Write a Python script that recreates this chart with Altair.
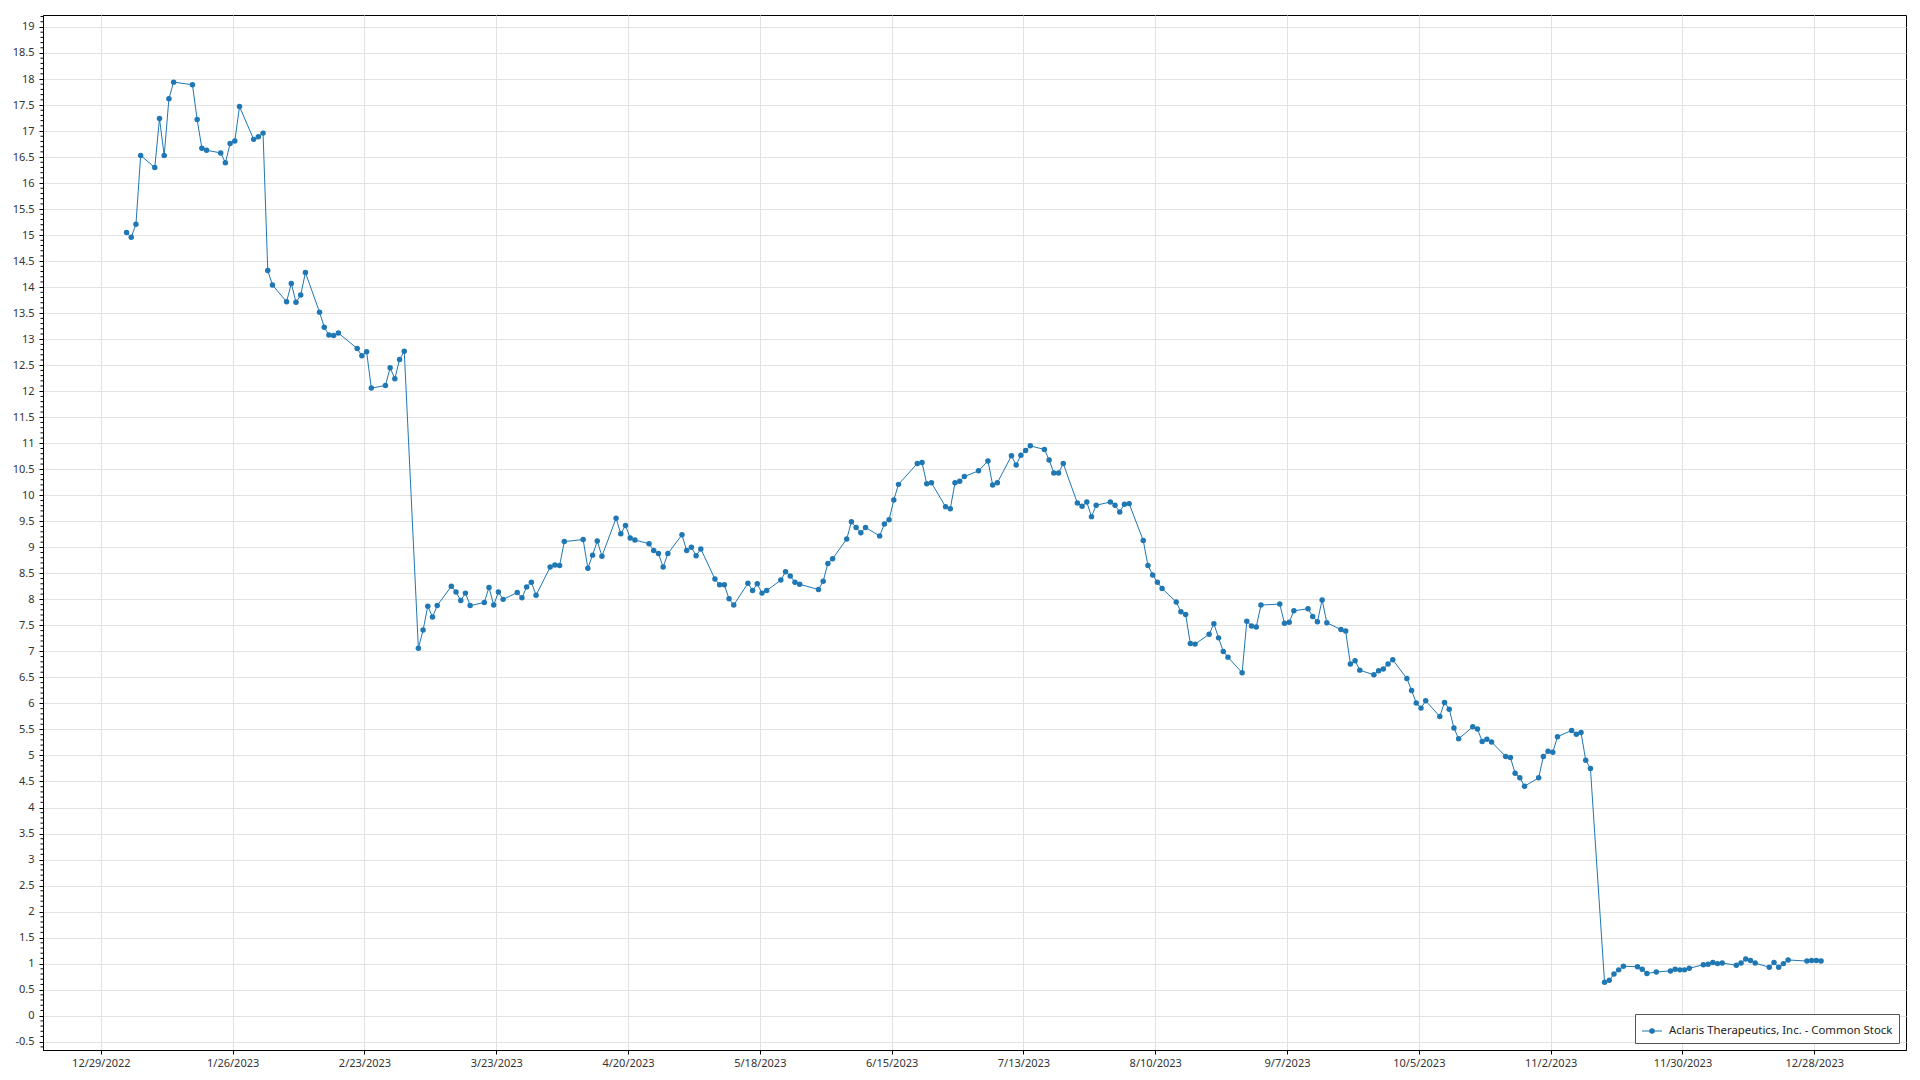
import altair as alt
import pandas as pd

SERIES = "Aclaris Therapeutics, Inc. - Common Stock"

dates = [
    "2023-01-03", "2023-01-04", "2023-01-05", "2023-01-06", "2023-01-09", "2023-01-10", "2023-01-11",
    "2023-01-12", "2023-01-13", "2023-01-17", "2023-01-18", "2023-01-19", "2023-01-20", "2023-01-23",
    "2023-01-24", "2023-01-25", "2023-01-26", "2023-01-27", "2023-01-30", "2023-01-31", "2023-02-01",
    "2023-02-02", "2023-02-03", "2023-02-06", "2023-02-07", "2023-02-08", "2023-02-09", "2023-02-10",
    "2023-02-13", "2023-02-14", "2023-02-15", "2023-02-16", "2023-02-17", "2023-02-21", "2023-02-22",
    "2023-02-23", "2023-02-24", "2023-02-27", "2023-02-28", "2023-03-01", "2023-03-02", "2023-03-03",
    "2023-03-06", "2023-03-07", "2023-03-08", "2023-03-09", "2023-03-10", "2023-03-13", "2023-03-14",
    "2023-03-15", "2023-03-16", "2023-03-17", "2023-03-20", "2023-03-21", "2023-03-22", "2023-03-23",
    "2023-03-24", "2023-03-27", "2023-03-28", "2023-03-29", "2023-03-30", "2023-03-31", "2023-04-03",
    "2023-04-04", "2023-04-05", "2023-04-06", "2023-04-10", "2023-04-11", "2023-04-12", "2023-04-13",
    "2023-04-14", "2023-04-17", "2023-04-18", "2023-04-19", "2023-04-20", "2023-04-21", "2023-04-24",
    "2023-04-25", "2023-04-26", "2023-04-27", "2023-04-28", "2023-05-01", "2023-05-02", "2023-05-03",
    "2023-05-04", "2023-05-05", "2023-05-08", "2023-05-09", "2023-05-10", "2023-05-11", "2023-05-12",
    "2023-05-15", "2023-05-16", "2023-05-17", "2023-05-18", "2023-05-19", "2023-05-22", "2023-05-23",
    "2023-05-24", "2023-05-25", "2023-05-26", "2023-05-30", "2023-05-31", "2023-06-01", "2023-06-02",
    "2023-06-05", "2023-06-06", "2023-06-07", "2023-06-08", "2023-06-09", "2023-06-12", "2023-06-13",
    "2023-06-14", "2023-06-15", "2023-06-16", "2023-06-20", "2023-06-21", "2023-06-22", "2023-06-23",
    "2023-06-26", "2023-06-27", "2023-06-28", "2023-06-29", "2023-06-30", "2023-07-03", "2023-07-05",
    "2023-07-06", "2023-07-07", "2023-07-10", "2023-07-11", "2023-07-12", "2023-07-13", "2023-07-14",
    "2023-07-17", "2023-07-18", "2023-07-19", "2023-07-20", "2023-07-21", "2023-07-24", "2023-07-25",
    "2023-07-26", "2023-07-27", "2023-07-28", "2023-07-31", "2023-08-01", "2023-08-02", "2023-08-03",
    "2023-08-04", "2023-08-07", "2023-08-08", "2023-08-09", "2023-08-10", "2023-08-11", "2023-08-14",
    "2023-08-15", "2023-08-16", "2023-08-17", "2023-08-18", "2023-08-21", "2023-08-22", "2023-08-23",
    "2023-08-24", "2023-08-25", "2023-08-28", "2023-08-29", "2023-08-30", "2023-08-31", "2023-09-01",
    "2023-09-05", "2023-09-06", "2023-09-07", "2023-09-08", "2023-09-11", "2023-09-12", "2023-09-13",
    "2023-09-14", "2023-09-15", "2023-09-18", "2023-09-19", "2023-09-20", "2023-09-21", "2023-09-22",
    "2023-09-25", "2023-09-26", "2023-09-27", "2023-09-28", "2023-09-29", "2023-10-02", "2023-10-03",
    "2023-10-04", "2023-10-05", "2023-10-06", "2023-10-09", "2023-10-10", "2023-10-11", "2023-10-12",
    "2023-10-13", "2023-10-16", "2023-10-17", "2023-10-18", "2023-10-19", "2023-10-20", "2023-10-23",
    "2023-10-24", "2023-10-25", "2023-10-26", "2023-10-27", "2023-10-30", "2023-10-31", "2023-11-01",
    "2023-11-02", "2023-11-03", "2023-11-06", "2023-11-07", "2023-11-08", "2023-11-09", "2023-11-10",
    "2023-11-13", "2023-11-14", "2023-11-15", "2023-11-16", "2023-11-17", "2023-11-20", "2023-11-21",
    "2023-11-22", "2023-11-24", "2023-11-27", "2023-11-28", "2023-11-29", "2023-11-30", "2023-12-01",
    "2023-12-04", "2023-12-05", "2023-12-06", "2023-12-07", "2023-12-08", "2023-12-11", "2023-12-12",
    "2023-12-13", "2023-12-14", "2023-12-15", "2023-12-18", "2023-12-19", "2023-12-20", "2023-12-21",
    "2023-12-22", "2023-12-26", "2023-12-27", "2023-12-28", "2023-12-29",
]

prices = [
    15.05, 14.96, 15.21, 16.53, 16.30, 17.24, 16.53,
    17.62, 17.94, 17.89, 17.22, 16.67, 16.63, 16.58,
    16.39, 16.76, 16.81, 17.47, 16.84, 16.89, 16.96,
    14.32, 14.04, 13.72, 14.07, 13.71, 13.85, 14.28,
    13.52, 13.23, 13.08, 13.07, 13.12, 12.82, 12.68,
    12.76, 12.06, 12.11, 12.45, 12.24, 12.61, 12.77,
    7.06, 7.41, 7.87, 7.66, 7.88, 8.25, 8.14,
    7.98, 8.12, 7.88, 7.94, 8.23, 7.89, 8.14,
    8.00, 8.13, 8.03, 8.24, 8.33, 8.08, 8.62,
    8.66, 8.65, 9.11, 9.15, 8.60, 8.85, 9.12,
    8.83, 9.56, 9.26, 9.42, 9.18, 9.14, 9.07,
    8.94, 8.88, 8.62, 8.88, 9.24, 8.94, 9.00,
    8.84, 8.97, 8.39, 8.28, 8.28, 8.01, 7.89,
    8.31, 8.17, 8.30, 8.12, 8.17, 8.37, 8.53,
    8.45, 8.33, 8.29, 8.19, 8.35, 8.69, 8.78,
    9.16, 9.49, 9.38, 9.28, 9.38, 9.22, 9.45,
    9.53, 9.91, 10.21, 10.61, 10.63, 10.22, 10.24,
    9.78, 9.74, 10.24, 10.27, 10.36, 10.47, 10.66,
    10.20, 10.24, 10.76, 10.58, 10.77, 10.86, 10.95,
    10.88, 10.68, 10.43, 10.43, 10.61, 9.85, 9.79,
    9.87, 9.59, 9.81, 9.87, 9.81, 9.68, 9.83,
    9.84, 9.13, 8.65, 8.47, 8.33, 8.21, 7.95,
    7.76, 7.71, 7.15, 7.14, 7.33, 7.53, 7.26,
    7.00, 6.89, 6.59, 7.58, 7.49, 7.47, 7.89,
    7.91, 7.54, 7.56, 7.78, 7.82, 7.67, 7.57,
    7.99, 7.55, 7.42, 7.39, 6.76, 6.82, 6.64,
    6.55, 6.63, 6.66, 6.76, 6.84, 6.48, 6.25,
    6.01, 5.91, 6.05, 5.75, 6.02, 5.89, 5.53,
    5.32, 5.55, 5.51, 5.27, 5.31, 5.26, 4.98,
    4.96, 4.66, 4.57, 4.41, 4.57, 4.98, 5.08,
    5.06, 5.36, 5.48, 5.41, 5.44, 4.91, 4.75,
    0.64, 0.68, 0.80, 0.88, 0.95, 0.94, 0.89,
    0.81, 0.84, 0.86, 0.89, 0.88, 0.88, 0.91,
    0.98, 0.99, 1.02, 1.00, 1.01, 0.97, 1.01,
    1.09, 1.06, 1.01, 0.93, 1.02, 0.93, 1.00,
    1.07, 1.05, 1.06, 1.06, 1.05,
]

x_tick_dates = [
    (2022, 12, 29), (2023, 1, 26), (2023, 2, 23), (2023, 3, 23), (2023, 4, 20),
    (2023, 5, 18), (2023, 6, 15), (2023, 7, 13), (2023, 8, 10), (2023, 9, 7),
    (2023, 10, 5), (2023, 11, 2), (2023, 11, 30), (2023, 12, 28),
]
y_tick_values = [i * 0.5 for i in range(-1, 39)]
y_minor_values = [round(i * 0.1, 1) for i in range(-6, 193) if i % 5 != 0]

COLOR = "#1f77b4"
LEGEND_LINE = "#6fa6d6"
FONT = "Noto Sans"

df = pd.DataFrame({
    "date": [d + "T11:00:00" for d in dates],
    "price": prices,
    "series": [SERIES] * len(dates),
})

x_enc = alt.X(
    "date:T",
    scale=alt.Scale(
        domain=[alt.DateTime(year=2022, month=12, date=16, hours=17),
                alt.DateTime(year=2024, month=1, date=16, hours=12)],
        nice=False,
    ),
    axis=alt.Axis(
        values=[alt.DateTime(year=y, month=m, date=d) for (y, m, d) in x_tick_dates],
        format="%-m/%-d/%Y", title=None, labelPadding=3, tickSize=4,
        minExtent=20, maxExtent=20, labelFlush=False, labelOverlap=False,
        gridColor="#e2e2e2",
    ),
)
y_scale = alt.Scale(domain=[-0.66, 19.23], nice=False, zero=False)
y_axis = alt.Axis(
    values=y_tick_values, labelExpr="'' + datum.value", title=None,
    tickSize=4, labelPadding=5, minExtent=30, maxExtent=30, gridColor="#e3e3e3",
)
y_enc = alt.Y("price:Q", scale=y_scale, axis=y_axis)

SYMBOL = "M-1,0L1,0M0.22,0A0.22,0.22,0,1,1,-0.22,0A0.22,0.22,0,1,1,0.22,0Z"
color_enc = alt.Color(
    "series:N",
    scale=alt.Scale(range=[COLOR]),
    legend=alt.Legend(
        title=None, orient="bottom-right", offset=7,
        strokeColor="#555555", fillColor="white", padding=6,
        symbolType=SYMBOL, symbolSize=400, symbolStrokeWidth=1.2,
        symbolFillColor=COLOR, symbolStrokeColor=LEGEND_LINE,
        labelFont=FONT, labelFontSize=11.4, labelColor="#222222", labelOffset=6,
        labelLimit=400,
    ),
)

base = alt.Chart(df).encode(x=x_enc, y=y_enc, color=color_enc)
line = base.mark_line(strokeWidth=1)
pts = base.mark_circle(size=30, opacity=1)

minor = alt.Chart(pd.DataFrame({"price": y_minor_values})).mark_rule(
    color="black", strokeWidth=1
).encode(
    y=alt.Y("price:Q", scale=y_scale, axis=y_axis),
    x=alt.value(-2.5),
    x2=alt.value(0),
)

chart = alt.layer(line, pts, minor).properties(
    width=1863, height=1035,
    padding={"left": 4, "top": 7, "right": 5, "bottom": 0},
).configure_view(
    stroke="black", strokeWidth=1
).configure_axis(
    domainColor="black", tickColor="black", labelFont=FONT, labelFontSize=11,
    labelColor="#333333", gridWidth=1,
)

chart.save("out.html", embed_options={"renderer": "svg", "actions": False})
